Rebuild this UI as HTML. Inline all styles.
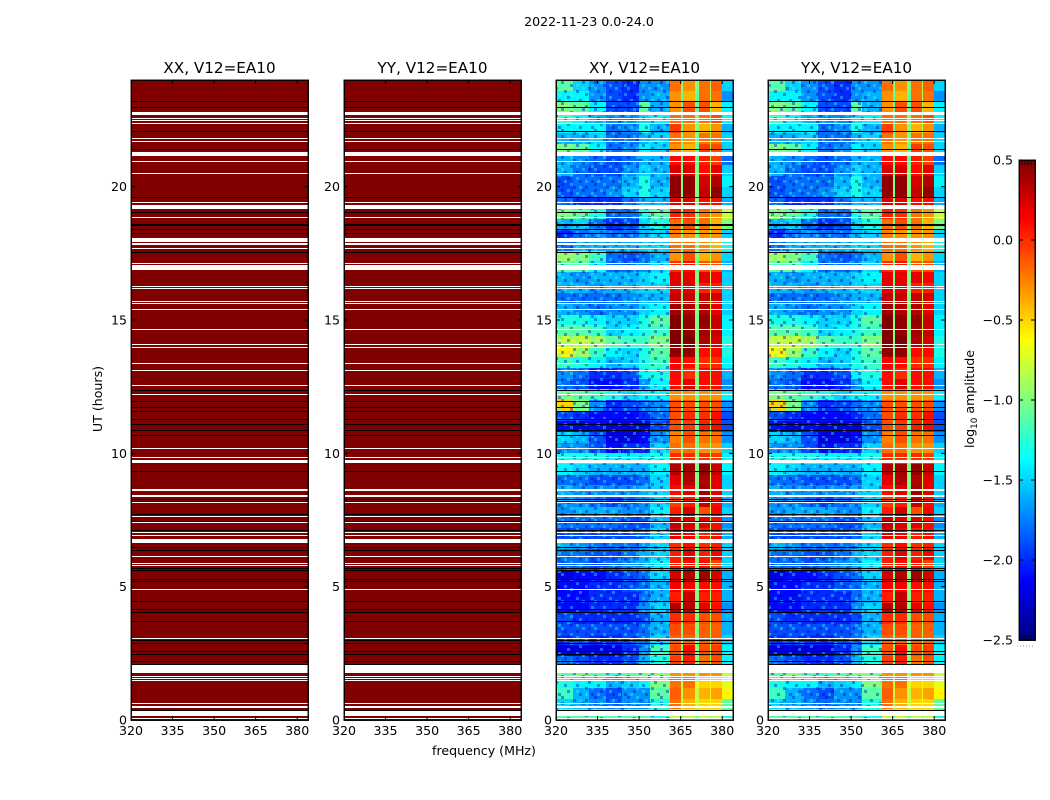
<!DOCTYPE html>
<html lang="en">
<head>
<meta charset="utf-8">
<title>2022-11-23 0.0-24.0</title>
<style>
html,body{margin:0;padding:0;background:#fff;}
svg{display:block;font-family:"DejaVu Sans","Liberation Sans",sans-serif;fill:#000;}
</style>
</head>
<body>
<svg id="chart" xmlns="http://www.w3.org/2000/svg" width="1050" height="800" viewBox="0 0 1050 800">
  <defs>
    <pattern id="speckle" patternUnits="userSpaceOnUse" width="33" height="27">
      <g fill="#0000b0" opacity="0.4">
        <rect x="0" y="0" width="3" height="3"/><rect x="9" y="3" width="3" height="3"/><rect x="21" y="0" width="3" height="3"/>
        <rect x="27" y="6" width="3" height="3"/><rect x="3" y="9" width="3" height="3"/><rect x="15" y="9" width="3" height="3"/>
        <rect x="24" y="12" width="3" height="3"/><rect x="6" y="15" width="3" height="3"/><rect x="18" y="18" width="3" height="3"/>
        <rect x="30" y="18" width="3" height="3"/><rect x="0" y="21" width="3" height="3"/><rect x="12" y="24" width="3" height="3"/>
        <rect x="24" y="24" width="3" height="3"/>
      </g>
      <g fill="#30ffe0" opacity="0.4">
        <rect x="6" y="0" width="3" height="3"/><rect x="15" y="3" width="3" height="3"/><rect x="30" y="3" width="3" height="3"/>
        <rect x="0" y="6" width="3" height="3"/><rect x="21" y="6" width="3" height="3"/><rect x="9" y="12" width="3" height="3"/>
        <rect x="30" y="12" width="3" height="3"/><rect x="15" y="15" width="3" height="3"/><rect x="3" y="18" width="3" height="3"/>
        <rect x="24" y="18" width="3" height="3"/><rect x="9" y="21" width="3" height="3"/><rect x="18" y="24" width="3" height="3"/>
      </g>
    </pattern>
  </defs>
  <rect x="0" y="0" width="1050" height="800" fill="#fff"/>
  <text x="589" y="26" font-size="12.6" text-anchor="middle">2022-11-23 0.0-24.0</text>
  <g id="panels"></g>
  <text x="484" y="755" font-size="12.6" text-anchor="middle">frequency (MHz)</text>
  <text transform="translate(102,399) rotate(-90)" font-size="12.6" text-anchor="middle">UT (hours)</text>
  <g id="colorbar"></g>
  <text transform="translate(974,399) rotate(-90)" font-size="12.6" text-anchor="middle">log<tspan font-size="8.8" dy="3">10</tspan><tspan dy="-3"> amplitude</tspan></text>
</svg>
<script>
const panelTitles = ["XX, V12=EA10", "YY, V12=EA10", "XY, V12=EA10", "YX, V12=EA10"];
const freqTicks = [320, 335, 350, 365, 380];
const utTicks = [0, 5, 10, 15, 20];
const colorbarTicks = [0.5, 0, -0.5, -1, -1.5, -2, -2.5];
const freqEdges = [320, 326, 332, 338, 344, 350, 354, 361, 365, 366, 370, 371.5, 375.5, 376, 380, 384];
const utStart = 24;
const utStep = 0.4;

const xxLevels = [0.5,0.5,0.5,0.5,0.5,0.5,0.5,0.5,0.5,0.5,0.5,0.5,0.5,0.5,0.5,0.5,0.5,0.5,0.5,0.5,0.5,0.5,0.5,0.5,0.5,0.5,0.5,0.5,0.5,0.5,0.5,0.5,0.5,0.5,0.5,0.5,0.5,0.5,0.5,0.5,0.5,0.5,0.5,0.5,0.5,0.5,0.5,0.5,0.5,0.5,0.5,0.5,0.5,0.5,0.5,0.5,0.5,0.5,0.5,0.5];
const yyLevels = [0.5,0.5,0.5,0.5,0.5,0.5,0.5,0.5,0.5,0.5,0.5,0.5,0.5,0.5,0.5,0.5,0.5,0.5,0.5,0.5,0.5,0.5,0.5,0.5,0.5,0.5,0.5,0.5,0.5,0.5,0.5,0.5,0.5,0.5,0.5,0.5,0.5,0.5,0.5,0.5,0.5,0.5,0.5,0.5,0.5,0.5,0.5,0.5,0.5,0.5,0.5,0.5,0.5,0.5,0.5,0.5,0.5,0.5,0.5,0.5];

const xyRows = [
[-1.1,-1.5,-1.7,-1.9,-2.0,-1.7,-1.7,-0.2,-1.0,-0.3,-1.0,-0.2,-0.9,-0.15,-1.5],
[-1.4,-1.4,-1.7,-1.9,-2.0,-1.7,-1.6,-0.3,-1.1,-0.4,-1.1,-0.2,-0.9,-0.2,-1.7],
[-1.0,-1.1,-1.4,-1.9,-1.9,-1.1,-1.6,-0.3,-1.1,-0.1,-1.1,-0.1,-0.9,-0.4,-1.4],
[-1.2,-1.4,-1.6,-1.7,-1.7,-1.5,-1.4,-0.2,-1.1,-0.2,-1.0,-0.2,-0.9,-0.1,-1.4],
[-1.4,-1.4,-1.4,-1.8,-1.7,-1.3,-1.6,-0.05,-1.1,-0.3,-1.0,-0.4,-0.9,-0.3,-1.6],
[-1.6,-1.6,-1.5,-1.8,-1.8,-1.6,-1.5,-0.2,-1.0,-0.3,-1.0,-0.2,-0.9,-0.2,-1.5],
[-1.0,-1.1,-1.4,-1.8,-1.7,-1.4,-1.5,-0.3,-1.1,-0.4,-1.1,-0.05,-0.9,-0.1,-1.5],
[-1.6,-1.7,-1.8,-1.9,-1.8,-1.6,-1.6,0.1,-1.1,0.1,-1.1,0.05,-0.9,-0.05,-1.8],
[-1.6,-1.8,-1.9,-1.9,-1.7,-1.5,-1.6,0.25,-1.0,0.25,-1.0,0.1,-0.8,0.2,-1.5],
[-1.9,-1.8,-1.8,-1.8,-1.6,-1.3,-1.6,0.45,-1.0,0.45,-1.0,0.25,-0.8,0.35,-1.4],
[-1.9,-1.8,-1.8,-1.7,-1.5,-1.3,-1.5,0.45,-1.0,0.45,-1.0,0.3,-0.8,0.45,-1.5],
[-1.8,-2.0,-2.0,-2.0,-1.8,-1.6,-1.6,0.2,-1.0,0.2,-1.0,0.1,-0.8,0.1,-1.6],
[-1.0,-1.1,-1.3,-1.8,-1.8,-1.3,-1.1,0.05,-1.0,0.0,-1.0,-0.2,-0.8,-0.3,-0.8],
[-1.6,-1.5,-1.8,-2.0,-1.9,-1.5,-1.3,-0.2,-1.0,-0.1,-1.0,-0.2,-0.9,-0.4,-1.0],
[-2.0,-1.8,-1.7,-1.8,-1.8,-1.6,-1.5,-0.25,-1.0,-0.3,-1.0,-0.3,-0.9,-0.3,-1.5],
[-1.8,-1.6,-1.6,-1.6,-1.6,-1.5,-1.5,-0.2,-1.0,-0.2,-1.0,-0.3,-0.9,-0.4,-1.3],
[-0.9,-1.0,-1.2,-1.8,-1.9,-1.8,-1.6,-0.3,-1.0,-0.1,-1.0,-0.4,-0.9,-0.3,-1.5],
[-1.1,-1.1,-1.4,-1.8,-1.8,-1.7,-1.5,0.0,-1.1,0.1,-1.1,-0.1,-0.9,-0.1,-1.6],
[-1.6,-1.7,-1.6,-1.6,-1.6,-1.5,-1.4,0.2,-1.0,0.2,-1.0,0.2,-0.8,0.15,-1.5],
[-1.6,-1.6,-1.7,-1.6,-1.6,-1.5,-1.5,0.2,-1.0,0.2,-1.0,0.05,-0.8,0.05,-1.5],
[-1.8,-1.8,-1.8,-1.8,-1.7,-1.6,-1.6,0.3,-1.0,0.3,-1.0,0.3,-0.8,0.25,-1.5],
[-1.6,-1.7,-1.8,-1.7,-1.7,-1.5,-1.4,0.4,-1.0,0.35,-1.0,0.35,-0.8,0.2,-1.5],
[-1.3,-1.3,-1.4,-1.5,-1.5,-1.3,-1.1,0.5,-1.0,0.45,-1.0,0.45,-0.8,0.3,-1.4],
[-1.1,-1.1,-1.2,-1.5,-1.4,-1.3,-1.2,0.5,-1.0,0.45,-1.0,0.4,-0.8,0.3,-1.4],
[-0.8,-0.8,-0.9,-1.1,-1.2,-1.2,-1.0,0.5,-1.0,0.5,-1.0,0.35,-0.8,0.25,-1.3],
[-0.6,-0.9,-1.2,-1.4,-1.5,-1.3,-1.1,0.45,-1.0,0.45,-1.0,0.1,-0.8,0.1,-1.3],
[-1.2,-1.3,-1.4,-1.6,-1.5,-1.3,-1.2,0.15,-1.0,0.1,-1.0,0.0,-0.8,0.0,-1.4],
[-1.7,-1.8,-2.0,-2.0,-1.9,-1.4,-1.3,0.1,-1.0,0.0,-1.0,0.1,-0.9,0.1,-1.6],
[-1.8,-1.9,-2.1,-2.1,-2.0,-1.7,-1.4,0.1,-1.0,0.2,-1.0,0.1,-0.9,0.1,-1.7],
[-1.0,-1.1,-1.2,-1.3,-1.5,-1.4,-1.4,-0.3,-1.0,-0.3,-1.0,-0.3,-0.9,-0.3,-1.4],
[-0.5,-1.0,-1.7,-2.0,-1.9,-1.8,-1.7,-0.1,-1.0,-0.1,-1.0,-0.1,-0.9,-0.1,-1.7],
[-1.9,-2.0,-2.1,-2.1,-2.1,-2.0,-1.8,-0.1,-1.1,0.0,-1.1,0.0,-0.9,0.1,-1.9],
[-2.1,-2.2,-2.1,-2.2,-2.2,-2.2,-1.9,-0.1,-1.1,-0.05,-1.1,0.05,-0.9,0.1,-1.9],
[-1.5,-1.6,-1.9,-2.2,-2.2,-2.1,-1.7,-0.25,-1.1,-0.1,-1.1,-0.2,-0.9,-0.2,-1.7],
[-1.7,-1.7,-1.9,-2.1,-2.0,-2.0,-1.5,-0.2,-1.0,-0.2,-1.0,-0.3,-0.9,-0.3,-1.5],
[-1.3,-1.3,-1.3,-1.4,-1.4,-1.4,-1.3,0.0,-1.0,0.0,-1.0,0.0,-0.9,-0.05,-1.4],
[-1.4,-1.5,-1.6,-1.6,-1.6,-1.6,-1.4,0.35,-1.0,0.4,-1.0,0.45,-0.8,0.3,-1.4],
[-1.8,-1.8,-1.9,-1.9,-1.9,-1.8,-1.5,0.2,-1.0,0.35,-1.0,0.35,-0.8,0.2,-1.5],
[-1.6,-1.7,-1.7,-1.7,-1.7,-1.6,-1.5,0.1,-1.0,0.2,-1.0,0.4,-0.8,0.2,-1.5],
[-1.7,-1.7,-1.8,-1.9,-1.8,-1.7,-1.5,-0.05,-1.0,0.05,-1.0,0.3,-0.8,0.1,-1.6],
[-1.7,-1.6,-1.6,-1.6,-1.7,-1.7,-1.4,0.05,-1.0,0.25,-1.0,-0.1,-0.8,0.15,-1.5],
[-1.8,-1.8,-1.8,-1.8,-1.9,-1.9,-1.6,0.3,-1.0,0.25,-1.0,0.2,-0.9,0.1,-1.7],
[-1.9,-1.9,-1.9,-1.9,-1.9,-1.8,-1.5,0.2,-1.0,0.15,-1.0,0.05,-0.9,0.1,-1.6],
[-1.6,-1.7,-1.8,-1.8,-1.8,-1.7,-1.5,0.0,-1.0,0.1,-1.0,0.0,-0.9,0.05,-1.5],
[-1.8,-1.8,-1.9,-1.9,-1.8,-1.6,-1.5,0.05,-1.0,0.2,-1.0,0.05,-0.9,0.15,-1.5],
[-1.8,-1.8,-1.9,-1.8,-1.7,-1.6,-1.4,0.05,-1.0,0.1,-1.0,0.1,-0.9,-0.05,-1.5],
[-2.2,-2.1,-2.1,-2.0,-1.9,-1.8,-1.5,0.25,-1.0,0.35,-1.0,0.4,-0.9,0.25,-1.6],
[-2.1,-2.1,-2.0,-2.0,-1.9,-1.8,-1.6,0.15,-1.0,0.15,-1.0,0.1,-0.9,0.1,-1.6],
[-2.1,-2.1,-2.0,-2.0,-2.0,-1.8,-1.6,0.05,-1.0,0.3,-1.0,0.05,-0.9,0.05,-1.6],
[-2.1,-2.1,-2.0,-2.0,-2.0,-1.7,-1.5,0.35,-1.0,0.35,-1.0,0.2,-0.9,0.1,-1.7],
[-1.9,-2.0,-2.0,-2.0,-2.0,-1.9,-1.6,0.0,-1.0,0.0,-1.0,-0.1,-0.9,-0.1,-1.6],
[-1.9,-1.9,-1.9,-1.9,-1.9,-1.8,-1.6,-0.1,-1.0,-0.1,-1.0,-0.15,-0.9,-0.15,-1.6],
[-2.0,-1.9,-2.0,-2.0,-1.9,-1.8,-1.5,-0.15,-1.0,-0.15,-1.0,-0.15,-0.9,-0.15,-1.5],
[-2.2,-2.2,-2.2,-2.2,-2.0,-1.7,-1.2,-0.1,-1.0,0.1,-1.0,-0.1,-0.9,-0.05,-1.4],
[-1.8,-1.9,-2.0,-2.0,-1.9,-1.6,-1.3,-0.05,-1.0,0.05,-1.0,-0.2,-0.9,-0.1,-1.4],
[-1.1,-1.0,-1.1,-1.2,-1.1,-1.0,-1.0,-0.3,-0.9,-0.3,-0.9,-0.3,-0.8,-0.3,-0.8],
[-1.3,-1.4,-1.4,-1.6,-1.5,-1.4,-1.0,-0.2,-0.8,-0.2,-0.7,-0.5,-0.6,-0.5,-0.7],
[-1.2,-1.6,-1.8,-1.9,-1.7,-1.7,-1.1,-0.15,-0.8,-0.3,-0.8,-0.4,-0.6,-0.35,-0.6],
[-1.5,-1.6,-1.7,-1.8,-1.7,-1.7,-1.3,-0.2,-0.8,-0.4,-0.8,-0.5,-0.7,-0.5,-1.1],
[-1.1,-1.1,-1.1,-1.1,-1.1,-1.1,-1.3,-0.8,-1.1,-0.8,-1.1,-0.8,-1.1,-0.8,-1.3]
];
const yxRows = xyRows.map(function (row) { return row.slice(); });

const whiteGapStarts = [22.69,21.15,19.17,17.91,17.81,16.89,9.65,6.63,1.81,0.15,0.04,22.54,22.46,22.35,21.77,21.66,20.91,20.46,19.37,18.81,17.66,17.11,16.25,16.15,15.69,15.59,15.36,14.61,14.06,13.94,13.34,13.08,12.53,12.19,11.69,10.15,9.81,8.60,8.41,8.35,8.13,7.60,7.40,7.00,6.91,6.10,5.85,5.79,4.86,3.66,3.03,1.75,1.60,1.54,1.45,0.60,0.50,0.44];
const whiteGapHours = [0.12,0.16,0.14,0.18,0.06,0.17,0.10,0.17,0.25,0.20,0.05,0.04,0.04,0.04,0.04,0.04,0.04,0.04,0.04,0.04,0.04,0.04,0.04,0.04,0.04,0.04,0.04,0.04,0.04,0.04,0.04,0.04,0.04,0.04,0.04,0.04,0.04,0.07,0.04,0.04,0.04,0.04,0.04,0.04,0.04,0.04,0.04,0.04,0.04,0.04,0.04,0.04,0.04,0.04,0.04,0.04,0.04,0.04];
const darkLineHours = [23.20,22.98,22.08,21.40,19.60,19.06,18.60,18.55,18.40,18.25,17.54,12.38,11.95,11.75,11.58,11.28,11.10,10.86,10.68,9.33,8.28,8.22,7.71,7.47,7.11,6.48,6.38,5.70,5.61,5.30,5.20,4.45,4.15,4.04,3.70,2.99,2.88,2.58,2.48,2.22,2.09,0.375];

const NS = "http://www.w3.org/2000/svg";
const panelLeftPx = [131, 344, 556, 768];
const plotWidth = 177;
const plotTop = 80;
const plotBottom = 720;
const pxPerMHz = 2.77;
const pxPerHour = (plotBottom - plotTop) / 24;
const speckleEndMHz = 361;

function xScale(left, f) { return left + (f - 320) * pxPerMHz; }
function yScale(h) { return plotBottom - h * pxPerHour; }
function clamp01(v) { return Math.max(0, Math.min(1, v)); }
function jet(v) {
  const t = clamp01((v + 2.5) / 3);
  const r = clamp01(Math.min(4 * t - 1.5, -4 * t + 4.5));
  const g = clamp01(Math.min(4 * t - 0.5, -4 * t + 3.5));
  const b = clamp01(Math.min(4 * t + 0.5, -4 * t + 2.5));
  return "rgb(" + Math.round(r * 255) + "," + Math.round(g * 255) + "," + Math.round(b * 255) + ")";
}
function make(tag, parent, props) {
  const el = document.createElementNS(NS, tag);
  for (const k in props) { el.setAttribute(k, props[k]); }
  parent.appendChild(el);
  return el;
}
function cellRect(parent, x0, x1, y0, y1, fill) {
  const xa = Math.round(x0), xb = Math.round(x1);
  const ya = Math.round(y0);
  const yb = Math.max(ya + 1, Math.round(y1));
  return make("rect", parent, { x: xa, y: ya, width: xb - xa, height: yb - ya, fill: fill, "shape-rendering": "crispEdges" });
}

const root = document.getElementById("panels");
const seriesByPanel = [xxLevels, yyLevels, xyRows, yxRows];
const panelKeys = ["xx", "yy", "xy", "yx"];

panelKeys.forEach(function (key, p) {
  const left = panelLeftPx[p];
  const right = left + plotWidth;
  const g = make("g", root, {});
  
  

  const title = make("text", g, { x: left + plotWidth / 2, y: 73, "font-size": 15.2, "text-anchor": "middle" });
  title.textContent = panelTitles[p];
  
  

  const series = seriesByPanel[p];
  series.forEach(function (row, i) {
    const h0 = utStart - i * utStep;
    const h1 = h0 - utStep;
    if (Array.isArray(row)) {
      row.forEach(function (v, c) {
        const cell = cellRect(g, xScale(left, freqEdges[c]), Math.min(right, xScale(left, freqEdges[c + 1])), yScale(h0), yScale(h1), jet(v));
        
        
      });
    } else {
      const band = cellRect(g, left, right, yScale(h0), yScale(h1), jet(row));
      
      
    }
  });

  if (Array.isArray(series[0])) {
    const speck = make("rect", g, { x: left, y: plotTop, width: Math.round(xScale(left, speckleEndMHz)) - left, height: plotBottom - plotTop, fill: "url(#speckle)", "shape-rendering": "crispEdges" });
    
    
  }

  whiteGapStarts.forEach(function (h, i) {
    const gap = cellRect(g, left, right, yScale(h + whiteGapHours[i]), yScale(h), "#fff");
    
    
  });
  darkLineHours.forEach(function (h) {
    const y = Math.round(yScale(h));
    const line = cellRect(g, left, right, y, y + 1, "#000");
    
    
  });

  freqTicks.forEach(function (f) {
    const x = xScale(left, f);
    const bottom = make("line", g, { x1: x, x2: x, y1: plotBottom, y2: plotBottom - 4, stroke: "#000", "stroke-width": 1 });
    
    
    const top = make("line", g, { x1: x, x2: x, y1: plotTop, y2: plotTop + 4, stroke: "#000", "stroke-width": 1 });
    
    
    const label = make("text", g, { x: x, y: 735, "font-size": 12.6, "text-anchor": "middle" });
    label.textContent = String(f);
    
    
  });
  utTicks.forEach(function (h) {
    const y = yScale(h);
    const l = make("line", g, { x1: left, x2: left + 4, y1: y, y2: y, stroke: "#000", "stroke-width": 1 });
    
    
    const r = make("line", g, { x1: right - 4, x2: right, y1: y, y2: y, stroke: "#000", "stroke-width": 1 });
    
    
    const label = make("text", g, { x: left - 4, y: y + 4.5, "font-size": 12.6, "text-anchor": "end" });
    label.textContent = String(h);
    
    
  });

  const frame = make("rect", g, { x: left + 0.25, y: plotTop + 0.25, width: plotWidth, height: plotBottom - plotTop, fill: "none", stroke: "#000", "stroke-width": 1.4 });
  
  
});

const cb = document.getElementById("colorbar");
const cbLeft = 1019, cbRight = 1035, cbTop = 160, cbBottom = 640;
function cbScale(v) { return cbBottom - (v + 2.5) / 3 * (cbBottom - cbTop); }
for (let y = cbTop; y < cbBottom; y += 2) {
  const v = -2.5 + (cbBottom - y - 1) / (cbBottom - cbTop) * 3;
  const seg = make("rect", cb, { x: cbLeft, y: y, width: cbRight - cbLeft, height: 2, fill: jet(v), "shape-rendering": "crispEdges" });
  
  
}
colorbarTicks.forEach(function (v) {
  const y = cbScale(v);
  const l = make("line", cb, { x1: cbLeft, x2: cbLeft + 4, y1: y, y2: y, stroke: "#000", "stroke-width": 1 });
  
  
  const r = make("line", cb, { x1: cbRight - 4, x2: cbRight, y1: y, y2: y, stroke: "#000", "stroke-width": 1 });
  
  
  const label = make("text", cb, { x: 1013, y: y + 4.5, "font-size": 12.6, "text-anchor": "end" });
  label.textContent = (v < 0 ? "\u2212" : "") + Math.abs(v).toFixed(1);
  
  
});
for (let x = cbLeft + 3; x < cbRight - 1; x += 3) {
  const t = make("line", cb, { x1: x, x2: x, y1: cbTop, y2: cbTop + 5, stroke: "#000", "stroke-width": 0.8 });
  
  
  const b = make("line", cb, { x1: x, x2: x, y1: cbBottom - 5, y2: cbBottom, stroke: "#000", "stroke-width": 0.8 });
  
  
}
const dots = make("line", cb, { x1: 1017, x2: 1035, y1: 646, y2: 646, stroke: "#999", "stroke-width": 1, "stroke-dasharray": "1 2" });


const cbFrame = make("rect", cb, { x: cbLeft + 0.25, y: cbTop + 0.25, width: cbRight - cbLeft, height: cbBottom - cbTop, fill: "none", stroke: "#000", "stroke-width": 1.4 });


</script>
</body>
</html>
